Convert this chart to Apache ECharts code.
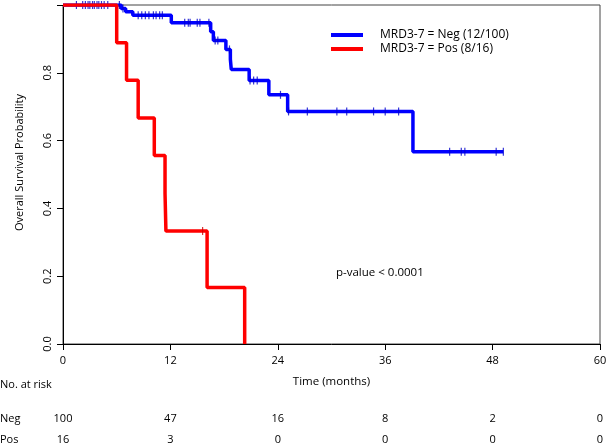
<!DOCTYPE html>
<html><head><meta charset="utf-8">
<script src="https://cdn.jsdelivr.net/npm/echarts@6/dist/echarts.min.js"></script>
<style>html,body{margin:0;padding:0;background:#fff}#c{width:610px;height:448px}</style>
</head><body><div id="c"></div>
<script>
// Kaplan-Meier step data (time in months, survival probability)
const negName = 'MRD3-7 = Neg (12/100)';
const posName = 'MRD3-7 = Pos (8/16)';
const negTime = [0, 6.5, 7.0, 7.8, 12.1, 16.5, 16.8, 18.2, 18.7, 18.8, 20.8, 23.0, 25.1, 39.1, 49.2];
const negSurv = [1.0, 0.99, 0.98, 0.97, 0.948, 0.921, 0.895, 0.869, 0.84, 0.81, 0.777, 0.735, 0.686, 0.567, 0.567];
const posTime = [0, 6.0, 7.1, 8.4, 10.2, 11.4, 11.5, 16.1, 20.3];
const posSurv = [1.0, 0.889, 0.778, 0.667, 0.556, 0.444, 0.333, 0.167, 0.0];
const negCensor = [1.5, 2.2, 2.5, 2.8, 3.0, 3.3, 3.5, 3.8, 4.0, 4.3, 4.6, 5.0, 6.3, 6.7,
  8.4, 8.8, 9.2, 9.6, 10.1, 10.4, 10.8, 11.1, 13.6, 14.0, 14.2, 15.0, 15.3, 16.3, 17.0, 17.3,
  18.6, 20.9, 21.3, 21.7, 24.3, 25.2, 27.3, 30.6, 31.7, 34.7, 36.0, 37.5, 43.2, 44.5, 44.9, 48.4, 49.2];
const posCensor = [15.6];
const xTicks = [0, 12, 24, 36, 48, 60];
const yTicks = [0.0, 0.2, 0.4, 0.6, 0.8, 1.0];
const riskNeg = [100, 47, 16, 8, 2, 0];
const riskPos = [16, 3, 0, 0, 0, 0];
const pText = 'p-value < 0.0001';

const FONT = '"Open Sans", "Noto Sans", sans-serif';
function levelAt(times, surv, t) {
  let s = surv[0];
  for (let i = 0; i < times.length; i++) { if (times[i] <= t) s = surv[i]; }
  return s;
}
const pair = (ts, ss) => ts.map((t, i) => [t, ss[i]]);

const chart = echarts.init(document.getElementById('c'), null, {renderer: 'canvas'});
const option = {
  animation: false,
  backgroundColor: '#fff',
  grid: {left: 63, right: 10, top: 5, bottom: 104, show: true, borderColor: '#444', borderWidth: 1, backgroundColor: 'transparent'},
  legend: {
    data: [negName, posName], orient: 'vertical', left: 326, top: 24,
    itemWidth: 32, itemHeight: 4, itemGap: 2, icon: 'rect',
    textStyle: {fontFamily: FONT, fontSize: 12, color: '#000', padding: [0, 0, 0, 12]}
  },
  xAxis: {
    type: 'value', min: 0, max: 60, interval: 12,
    axisLine: {show: true, onZero: false, lineStyle: {color: '#000', width: 1}},
    axisTick: {show: true, inside: false, length: 6, lineStyle: {color: '#000'}},
    axisLabel: {margin: 11, fontFamily: FONT, fontSize: 11, color: '#000', customValues: xTicks},
    splitLine: {show: false},
    name: 'Time (months)', nameLocation: 'middle', nameGap: 32,
    nameTextStyle: {fontFamily: FONT, fontSize: 11.5, color: '#000'}
  },
  yAxis: {
    type: 'value', min: 0, max: 1, interval: 0.2,
    axisLine: {show: true, onZero: false, lineStyle: {color: '#000', width: 1}},
    axisTick: {show: true, inside: false, length: 6, lineStyle: {color: '#000'}},
    axisLabel: {margin: 10, rotate: 90, fontFamily: FONT, fontSize: 11, color: '#000',
      formatter: v => (Math.abs(v - 1) < 1e-9 ? '' : v.toFixed(1))},
    splitLine: {show: false},
    name: 'Overall Survival Probability', nameLocation: 'middle', nameGap: 38, nameRotate: 90,
    nameTextStyle: {fontFamily: FONT, fontSize: 11, color: '#000', padding: [0, 0, 0, 24]}
  },
  series: [
    {name: negName, type: 'line', step: 'end', data: pair(negTime, negSurv), symbol: 'none',
      lineStyle: {color: '#0000ff', width: 3.5}, itemStyle: {color: '#0000ff'}, z: 2},
    {name: negName + ' censor', type: 'scatter', data: negCensor.map(t => [t, levelAt(negTime, negSurv, t)]),
      symbol: 'rect', symbolSize: [1.2, 8], itemStyle: {color: '#0000cc'}, z: 3},
    {name: posName, type: 'line', step: 'end', data: pair(posTime, posSurv), symbol: 'none',
      lineStyle: {color: '#ff0000', width: 3.5}, itemStyle: {color: '#ff0000'}, z: 4},
    {name: posName + ' censor', type: 'scatter', data: posCensor.map(t => [t, levelAt(posTime, posSurv, t)]),
      symbol: 'rect', symbolSize: [1.2, 8], itemStyle: {color: '#cc0000'}, z: 5}
  ]
};
chart.setOption(option);

// Risk table and annotations
const g = [];
const txt = (x, y, s, align, fs) => ({type: 'text', x, y,
  style: {text: String(s), fontFamily: FONT, fontSize: fs || 11, fill: '#000', align: align || 'left', verticalAlign: 'middle'}});
g.push(txt(0, 385, 'No. at risk'));
g.push(txt(0, 419, 'Neg'));
g.push(txt(0, 440, 'Pos'));
xTicks.forEach((t, i) => {
  const x = chart.convertToPixel({xAxisIndex: 0}, t);
  g.push(txt(x, 419, riskNeg[i], 'center'));
  g.push(txt(x, 440, riskPos[i], 'center'));
});
const px = chart.convertToPixel({xAxisIndex: 0}, 30.5);
const py = chart.convertToPixel({yAxisIndex: 0}, 0.21);
g.push(txt(px, py, pText, 'left', 11.5));
chart.setOption({graphic: g});
</script></body></html>
